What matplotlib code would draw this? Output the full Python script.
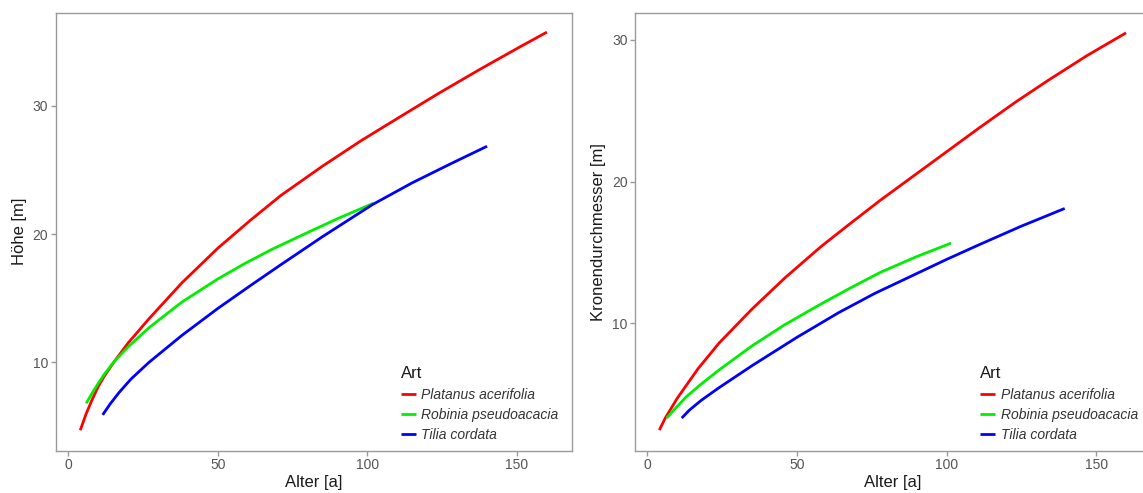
import matplotlib
matplotlib.use('Agg')
import matplotlib.pyplot as plt

plt.rcParams['font.family'] = ['Liberation Sans', 'DejaVu Sans']

species = ['Platanus acerifolia', 'Robinia pseudoacacia', 'Tilia cordata']
colors = ['#ff0000', '#00ee00', '#0000ff']

# Höhe [m] über Alter [a]
hoehe_alter = [
    [4, 6, 8, 10, 12, 15.5, 20, 27, 38, 50, 61, 71, 85, 98, 112, 124, 138, 151, 160],
    [6, 8, 10, 12, 15.5, 20, 27, 38, 50, 59, 68, 78, 90, 102],
    [11.5, 14, 17, 21, 27, 38, 50, 61, 71, 85, 101.7, 115, 128, 140],
]
hoehe = [
    [4.7, 6.0, 7.1, 8.1, 8.9, 10.1, 11.5, 13.4, 16.2, 18.9, 21.1, 23.0, 25.3, 27.3,
     29.3, 31.0, 32.9, 34.6, 35.75],
    [6.8, 7.6, 8.35, 9.05, 10.1, 11.2, 12.7, 14.7, 16.5, 17.7, 18.8, 19.9, 21.2, 22.4],
    [5.9, 6.75, 7.65, 8.7, 10.0, 12.1, 14.2, 16.0, 17.6, 19.8, 22.3, 24.0, 25.5, 26.85],
]

# Kronendurchmesser [m] über Alter [a]
krone_alter = [
    [4, 6, 8, 10, 13, 17, 24, 35, 46, 58, 67, 78, 89, 100, 111, 123, 134, 147, 160],
    [6.5, 9, 13, 18, 24, 35, 46, 58, 68, 78, 90, 101.5],
    [11.5, 14, 18, 24, 35, 50, 64, 76, 89, 100, 111, 125, 139.5],
]
krone = [
    [2.45, 3.3, 4.0, 4.7, 5.6, 6.8, 8.6, 11.0, 13.2, 15.4, 16.9, 18.7, 20.4, 22.1,
     23.8, 25.6, 27.15, 28.9, 30.5],
    [3.3, 3.9, 4.8, 5.7, 6.7, 8.4, 9.9, 11.35, 12.5, 13.6, 14.7, 15.65],
    [3.3, 3.85, 4.55, 5.45, 7.0, 9.0, 10.75, 12.1, 13.4, 14.5, 15.55, 16.85, 18.1],
]

x_ticks = [0, 50, 100, 150]

fig = plt.figure(figsize=(11.43, 4.93), dpi=100)
ax1 = fig.add_axes([0.0490, 0.0862, 0.4512, 0.8874])
ax2 = fig.add_axes([0.5556, 0.0862, 0.4513, 0.8874])


def style(ax, xs, ys, ylabel, ylim, yticks):
    for x, y, c, s in zip(xs, ys, colors, species):
        ax.plot(x, y, color=c, lw=2.0, label=s, solid_capstyle='butt',
                solid_joinstyle='round')
    ax.set_xlim(-4.1, 168.3)
    ax.set_ylim(*ylim)
    ax.set_xticks(x_ticks)
    ax.set_yticks(yticks)
    for sp in ax.spines.values():
        sp.set_color('#9a9a9a')
        sp.set_linewidth(1.0)
    ax.tick_params(colors='#9a9a9a', labelcolor='#555555', labelsize=10,
                   length=3.5, width=1.0, pad=2)
    ax.set_xlabel('Alter [a]', fontsize=12, color='#1a1a1a', labelpad=2)
    ax.set_ylabel(ylabel, fontsize=12, color='#1a1a1a', labelpad=4)
    leg = ax.legend(title='Art', loc='lower left', bbox_to_anchor=(0.652, 0.0),
                    frameon=False, fontsize=10, title_fontsize=12,
                    handlelength=1.1, handletextpad=0.4, labelspacing=0.45,
                    borderaxespad=0.3, borderpad=0.3)
    leg._legend_box.align = 'left'
    for t in leg.get_texts():
        t.set_fontstyle('italic')
        t.set_color('#333333')
    leg.get_title().set_color('#1a1a1a')


style(ax1, hoehe_alter, hoehe, 'Höhe [m]', (3.12, 37.24), [10, 20, 30])
style(ax2, krone_alter, krone, 'Kronendurchmesser [m]', (1.01, 31.9), [10, 20, 30])

fig.savefig('out.png', dpi=100)
